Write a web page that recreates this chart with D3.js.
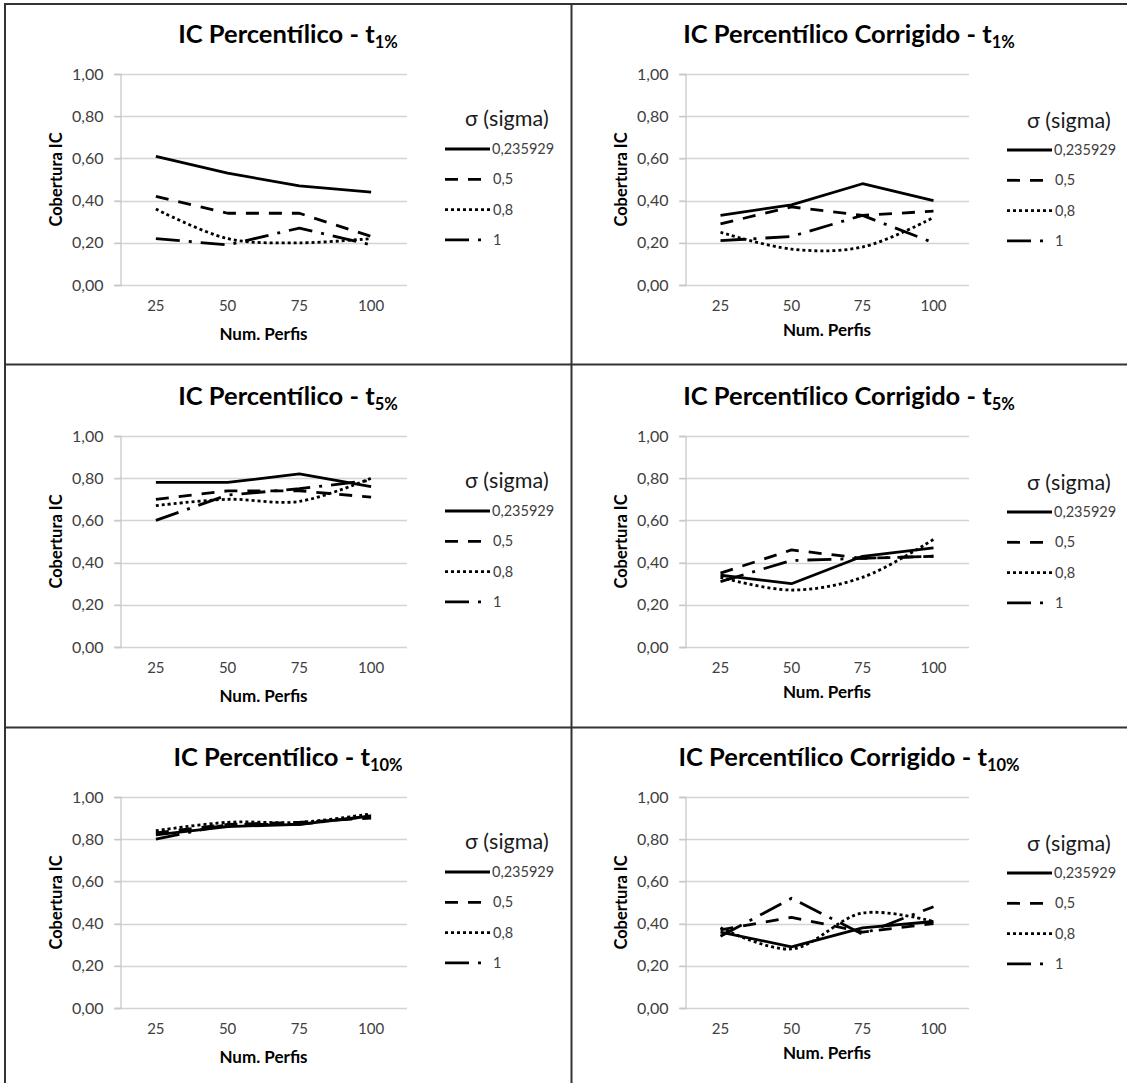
<!DOCTYPE html>
<html>
<head>
<meta charset="utf-8">
<script src="https://cdn.jsdelivr.net/npm/d3@7"></script>
<style>
  html, body { margin: 0; padding: 0; background: #fff; }
  svg { display: block; }
  text { font-family: Lato, "Open Sans", sans-serif; }
</style>
</head>
<body>
<svg id="fig" width="1127" height="1083"></svg>
<script>
// Número de perfis (eixo x) e valores de sigma (séries)
const categories = [25, 50, 75, 100];
const sigmaLabels = ["0,235929", "0,5", "0,8", "1"];
const yTicks = [0, 0.2, 0.4, 0.6, 0.8, 1.0];

// Títulos dos painéis (texto principal + índice)
const titleMain = [
  "IC Percentílico - t", "IC Percentílico Corrigido - t",
  "IC Percentílico - t", "IC Percentílico Corrigido - t",
  "IC Percentílico - t", "IC Percentílico Corrigido - t"
];
const titleSub = ["1%", "1%", "5%", "5%", "10%", "10%"];

// Cobertura IC por sigma (uma linha por série, ordem de sigmaLabels)
const percT1 = [
  [0.61, 0.53, 0.47, 0.44],
  [0.42, 0.34, 0.34, 0.23],
  [0.36, 0.22, 0.20, 0.22],
  [0.22, 0.19, 0.27, 0.19]
];
const corrT1 = [
  [0.33, 0.38, 0.48, 0.40],
  [0.29, 0.37, 0.33, 0.35],
  [0.25, 0.17, 0.18, 0.32],
  [0.21, 0.23, 0.33, 0.20]
];
const percT5 = [
  [0.78, 0.78, 0.82, 0.76],
  [0.70, 0.74, 0.74, 0.71],
  [0.67, 0.70, 0.69, 0.80],
  [0.60, 0.72, 0.75, 0.79]
];
const corrT5 = [
  [0.34, 0.30, 0.43, 0.47],
  [0.35, 0.46, 0.42, 0.43],
  [0.33, 0.27, 0.33, 0.51],
  [0.31, 0.41, 0.42, 0.43]
];
const percT10 = [
  [0.82, 0.86, 0.87, 0.91],
  [0.83, 0.87, 0.88, 0.90],
  [0.84, 0.88, 0.88, 0.92],
  [0.80, 0.87, 0.87, 0.91]
];
const corrT10 = [
  [0.36, 0.29, 0.38, 0.41],
  [0.37, 0.43, 0.36, 0.40],
  [0.38, 0.28, 0.45, 0.41],
  [0.34, 0.52, 0.35, 0.48]
];

const panelData = [percT1, corrT1, percT5, corrT5, percT10, corrT10];

// Estilo de cada série: contínua, tracejada, pontilhada (suavizada), traço-ponto
const seriesStyle = [
  { dash: null, curve: d3.curveLinear },
  { dash: "13,10", curve: d3.curveLinear },
  { dash: "3,3", curve: d3.curveCatmullRom },
  { dash: "24,9,3,9", curve: d3.curveLinear }
];

const ptBR = d3.formatLocale({ decimal: ",", thousands: ".", grouping: [3], currency: ["R$", ""] });
const fmt = ptBR.format(".2f");

const svg = d3.select("#fig");
svg.append("rect").attr("width", 1127).attr("height", 1083).attr("fill", "#fff");

// Geometria da grade de painéis
const colLeft = [5, 571];
const colRight = [571, 1127];
const plotLeft = [120, 685];
const plotWidth = [287, 284];
const plotTop = [74, 436, 797];
const plotHeight = 211;

panelData.forEach((series, i) => {
  const col = i % 2, row = Math.floor(i / 2);
  const g = svg.append("g");
  const x0 = plotLeft[col], w = plotWidth[col];
  const y0 = plotTop[row], h = plotHeight;

  const x = d3.scaleBand().domain(categories).range([x0, x0 + w]);
  const y = d3.scaleLinear().domain([0, 1]).range([y0 + h, y0]);

  // linhas de grade
  g.append("g").selectAll("line").data(yTicks).join("line")
    .attr("x1", x0 - 6).attr("x2", x0 + w)
    .attr("y1", d => Math.round(y(d)) + 0.5).attr("y2", d => Math.round(y(d)) + 0.5)
    .attr("stroke", "#d4d4d4").attr("stroke-width", 1.3);

  // eixo y
  const yAxis = g.append("g")
    .attr("transform", `translate(${x0 + 0.5},0)`)
    .call(d3.axisLeft(y).tickValues(yTicks).tickFormat(fmt).tickSize(6).tickPadding(11));
  yAxis.select(".domain").attr("stroke", "#c8c8c8").attr("stroke-width", 1.3);
  yAxis.selectAll(".tick line").attr("stroke", "#c8c8c8").attr("stroke-width", 1.3);
  yAxis.selectAll(".tick text").attr("fill", "#404040")
    .style("font-family", "Lato, sans-serif").style("font-size", "16px");

  // eixo x
  const xAxis = g.append("g")
    .attr("transform", `translate(0,${y0 + h})`)
    .call(d3.axisBottom(x).tickSize(0).tickPadding(15));
  xAxis.select(".domain").remove();
  xAxis.selectAll(".tick text").attr("fill", "#404040")
    .style("font-family", "Lato, sans-serif").style("font-size", "15px");

  // séries
  series.forEach((vals, s) => {
    const line = d3.line()
      .x((d, k) => x(categories[k]) + x.bandwidth() / 2)
      .y(d => y(d))
      .curve(seriesStyle[s].curve);
    g.append("path")
      .datum(vals)
      .attr("d", line)
      .attr("fill", "none")
      .attr("stroke", "#000")
      .attr("stroke-width", 2.8)
      .attr("stroke-dasharray", seriesStyle[s].dash)
      .attr("stroke-linejoin", "round");
  });

  // título
  const cx = (colLeft[col] + colRight[col]) / 2;
  const t = g.append("text")
    .attr("x", cx).attr("y", y0 - 31)
    .attr("text-anchor", "middle")
    .attr("fill", "#000")
    .style("font-size", "25.5px").style("font-weight", "700");
  t.append("tspan").text(titleMain[i]);
  t.append("tspan").attr("dy", "0.3em").style("font-size", "16.5px").text(titleSub[i]);

  // títulos dos eixos
  g.append("text")
    .attr("transform", `translate(${x0 - 64},${y0 + h / 2}) rotate(-90)`)
    .attr("text-anchor", "middle").attr("dy", "0.35em")
    .attr("fill", "#000")
    .style("font-size", "16.5px").style("font-weight", "700")
    .text("Cobertura IC");
  g.append("text")
    .attr("x", x0 + w / 2).attr("y", y0 + h + (col === 0 ? 49 : 45))
    .attr("text-anchor", "middle").attr("dy", "0.35em")
    .attr("fill", "#000")
    .style("font-size", "17px").style("font-weight", "700")
    .text("Num. Perfis");

  // legenda
  const lx = x0 + w + 38;
  const lg = g.append("g");
  lg.append("text")
    .attr("x", lx + 20).attr("y", y0 + (col === 0 ? 44 : 46.5))
    .attr("dy", "0.35em").attr("fill", "#1a1a1a")
    .style("font-size", "21.5px")
    .text("σ (sigma)");
  sigmaLabels.forEach((lab, s) => {
    const ly = y0 + (col === 0 ? 75 : 76) + s * 30.3;
    lg.append("line")
      .attr("x1", lx).attr("x2", lx + 45)
      .attr("y1", ly).attr("y2", ly)
      .attr("stroke", "#000").attr("stroke-width", 2.8)
      .attr("stroke-dasharray", seriesStyle[s].dash);
    lg.append("text")
      .attr("x", lx + (s === 0 ? 47 : 48)).attr("y", ly)
      .attr("dy", "0.35em").attr("fill", "#404040")
      .style("font-size", "14.5px")
      .text(lab);
  });
});

// molduras dos painéis
const frame = svg.append("g").attr("fill", "none").attr("stroke", "#333").attr("stroke-width", 2);
frame.append("rect").attr("x", 5).attr("y", 4).attr("width", 1130).attr("height", 1090);
frame.append("line").attr("x1", 571.5).attr("x2", 571.5).attr("y1", 4).attr("y2", 1083);
frame.append("line").attr("x1", 5).attr("x2", 1127).attr("y1", 364.5).attr("y2", 364.5);
frame.append("line").attr("x1", 5).attr("x2", 1127).attr("y1", 727.5).attr("y2", 727.5);
</script>
</body>
</html>
